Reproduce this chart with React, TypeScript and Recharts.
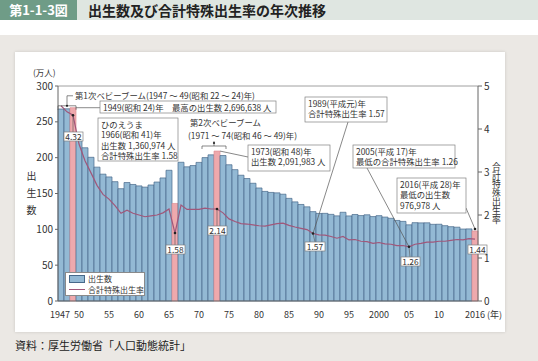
import React from 'react';
import { ComposedChart, Bar, Line, XAxis, YAxis, Cell, ReferenceDot, ReferenceLine, Legend } from 'recharts';

// 年次（1947〜2016）
const years = [
  1947, 1948, 1949, 1950, 1951, 1952, 1953, 1954, 1955, 1956,
  1957, 1958, 1959, 1960, 1961, 1962, 1963, 1964, 1965, 1966,
  1967, 1968, 1969, 1970, 1971, 1972, 1973, 1974, 1975, 1976,
  1977, 1978, 1979, 1980, 1981, 1982, 1983, 1984, 1985, 1986,
  1987, 1988, 1989, 1990, 1991, 1992, 1993, 1994, 1995, 1996,
  1997, 1998, 1999, 2000, 2001, 2002, 2003, 2004, 2005, 2006,
  2007, 2008, 2009, 2010, 2011, 2012, 2013, 2014, 2015, 2016,
];

// 出生数（万人）
const births = [
  267.9, 268.2, 269.7, 233.8, 213.8, 200.5, 186.8, 177.0, 173.1, 166.5,
  156.7, 165.3, 162.6, 160.6, 158.9, 161.9, 166.0, 171.7, 182.4, 136.1,
  193.6, 187.2, 189.0, 193.4, 200.1, 203.9, 209.2, 203.0, 190.1, 183.3,
  175.5, 170.9, 164.3, 157.7, 152.9, 151.5, 150.9, 149.0, 143.2, 138.3,
  134.7, 131.4, 124.7, 122.2, 122.3, 120.9, 118.8, 123.8, 118.7, 120.7,
  119.2, 120.3, 117.8, 119.1, 117.1, 115.4, 112.4, 111.1, 106.3, 109.3,
  109.0, 109.1, 107.0, 107.1, 105.1, 103.7, 103.0, 100.4, 100.6, 97.7,
];

// 合計特殊出生率
const tfr = [
  4.54, 4.40, 4.32, 3.65, 3.26, 2.98, 2.69, 2.48, 2.37, 2.22,
  2.04, 2.11, 2.04, 2.00, 1.96, 1.98, 2.00, 2.05, 2.14, 1.58,
  2.23, 2.13, 2.13, 2.13, 2.16, 2.14, 2.14, 2.05, 1.91, 1.85,
  1.80, 1.79, 1.77, 1.75, 1.74, 1.77, 1.80, 1.81, 1.76, 1.72,
  1.69, 1.66, 1.57, 1.54, 1.53, 1.50, 1.46, 1.50, 1.42, 1.43,
  1.39, 1.38, 1.34, 1.36, 1.33, 1.32, 1.29, 1.29, 1.26, 1.32,
  1.34, 1.37, 1.37, 1.39, 1.39, 1.41, 1.43, 1.42, 1.45, 1.44,
];

const highlightYears = [1949, 1966, 1973, 2016];

const xLabelYears = [1947, 1950, 1955, 1960, 1965, 1970, 1975, 1980, 1985, 1990, 1995, 2000, 2005, 2010, 2016];
const xLabelTexts = ['1947', '50', '55', '60', '65', '70', '75', '80', '85', '90', '95', '2000', '05', '10', '2016'];

const leftTicks = [0, 50, 100, 150, 200, 250, 300];
const rightTicks = [0, 1, 2, 3, 4, 5];

const data = years.map((year, i) => ({ year, births: births[i], tfr: tfr[i] }));

const FONT = "'Noto Sans CJK JP', 'Noto Sans', sans-serif";
const BLUE = '#93b9d4';
const BLUE_EDGE = '#47698a';
const PINK = '#eea9ad';
const PINK_EDGE = '#e08f95';
const LINE = '#a0577a';
const TEXT = '#333';
const FS = 8.4;

const Box = ({ x, y, w, h, lines, center }: any) => (
  <g>
    <rect x={x} y={y} width={w} height={h} fill="#fff" stroke="#808080" strokeWidth={0.7} />
    {lines.map((t: string, i: number) => (
      <text
        key={i}
        x={center ? x + w / 2 : x + 3}
        y={center ? y + h / 2 + 3 : y + 9.5 + i * 10.6}
        textAnchor={center ? 'middle' : 'start'}
        fontSize={FS}
        fill={TEXT}
        fontFamily={FONT}
      >
        {t}
      </text>
    ))}
  </g>
);

const Dot = ({ cx, cy }: any) => <circle cx={cx} cy={cy} r={1.3} fill="#222" />;

const XTick = ({ x, y, payload }: any) => {
  const idx = xLabelYears.indexOf(payload.value);
  if (idx < 0) return null;
  const label = xLabelTexts[idx];
  if (payload.value === 2016) {
    return (
      <text x={x - 10} y={y + 9} textAnchor="start" fontSize={9} fill={TEXT} fontFamily={FONT}>
        {label} (年)
      </text>
    );
  }
  return (
    <text x={x - (payload.value === 1947 ? 1 : 0)} y={y + 9} textAnchor="middle" fontSize={9} fill={TEXT} fontFamily={FONT}>
      {label}
    </text>
  );
};

const renderLegend = () => (
  <div
    style={{
      width: 78,
      height: 22,
      border: '1px solid #8a8a8a',
      background: '#fff',
      fontSize: 8,
      color: TEXT,
      fontFamily: FONT,
      lineHeight: '11px',
      whiteSpace: 'nowrap',
      boxSizing: 'content-box',
    }}
  >
    <div style={{ display: 'flex', alignItems: 'center', height: 11, paddingLeft: 3 }}>
      <span style={{ display: 'inline-block', width: 14, height: 6, background: BLUE, border: `1px solid ${BLUE_EDGE}`, marginRight: 3 }} />
      出生数
    </div>
    <div style={{ display: 'flex', alignItems: 'center', height: 11, paddingLeft: 3 }}>
      <span style={{ display: 'inline-block', width: 16, height: 0, borderTop: `1.2px solid ${LINE}`, marginRight: 3 }} />
      合計特殊出生率
    </div>
  </div>
);

const App: React.FC = () => {
  return (
    <div
      style={{
        position: 'relative',
        width: 538,
        height: 361,
        background: '#ebe8e4',
        overflow: 'hidden',
        fontFamily: FONT,
      }}
    >
      <style>{'body{margin:0}'}</style>
      <div style={{ position: 'absolute', left: 0, top: 0, width: 538, height: 35, background: '#fff' }} />
      <div style={{ position: 'absolute', left: 0, top: 0, width: 538, height: 20, background: '#dfe6e1' }} />
      <div
        style={{
          position: 'absolute', left: 0, top: 0, width: 77, height: 20, background: '#6f9c87',
          color: '#fff', fontWeight: 700, fontSize: 13, lineHeight: '20px', textAlign: 'center',
        }}
      >
        第1-1-3図
      </div>
      <div style={{ position: 'absolute', left: 88, top: 0, height: 20, lineHeight: '20px', fontSize: 14, fontWeight: 700, color: '#222' }}>
        出生数及び合計特殊出生率の年次推移
      </div>
      <div style={{ position: 'absolute', left: 15, top: 52, width: 490, height: 280, background: '#fff', boxShadow: '0 0 3px rgba(0,0,0,0.15)' }} />
      <div style={{ position: 'absolute', left: 15, top: 337, fontSize: 11, color: '#222' }}>資料：厚生労働省「人口動態統計」</div>

      <div style={{ position: 'absolute', left: 33, top: 67, fontSize: 8.5, lineHeight: '10px', color: TEXT }}>(万人)</div>
      <div style={{ position: 'absolute', left: 24, top: 171, fontSize: 10, color: TEXT, writingMode: 'vertical-rl', letterSpacing: 7 }}>出生数</div>
      <div style={{ position: 'absolute', left: 491, top: 162, fontSize: 8.8, lineHeight: '10px', color: TEXT, writingMode: 'vertical-rl' }}>合計特殊出生率</div>

      <div style={{ position: 'absolute', left: 0, top: 0 }}>
        <ComposedChart
          width={538}
          height={361}
          data={data}
          margin={{ top: 86, right: 30, bottom: 40, left: 18 }}
          barCategoryGap={0}
          barGap={0}
        >
          <XAxis
            dataKey="year"
            interval={0}
            tickLine={false}
            axisLine={{ stroke: '#666' }}
            height={20}
            tick={<XTick />}
          />
          <YAxis
            yAxisId="left"
            domain={[0, 300]}
            ticks={leftTicks}
            width={40}
            tickSize={3}
            axisLine={{ stroke: '#666' }}
            tickLine={{ stroke: '#666' }}
            tick={{ fontSize: 10, fill: TEXT, fontFamily: FONT }}
          />
          <YAxis
            yAxisId="right"
            orientation="right"
            domain={[0, 5]}
            ticks={rightTicks}
            width={30}
            tickSize={4}
            axisLine={{ stroke: '#666' }}
            tickLine={{ stroke: '#666' }}
            tick={{ fontSize: 10, fill: TEXT, fontFamily: FONT }}
          />
          <ReferenceLine yAxisId="left" y={300} stroke="#888" strokeWidth={0.8} />
          <Bar yAxisId="left" dataKey="births" isAnimationActive={false} strokeWidth={0.7}>
            {data.map((d) => {
              const hi = highlightYears.includes(d.year);
              return <Cell key={d.year} fill={hi ? PINK : BLUE} stroke={hi ? PINK_EDGE : BLUE_EDGE} />;
            })}
          </Bar>
          <Line
            yAxisId="right"
            dataKey="tfr"
            type="linear"
            stroke={LINE}
            strokeWidth={1.2}
            dot={false}
            isAnimationActive={false}
          />
          <Legend
            layout="vertical"
            align="center"
            verticalAlign="middle"
            content={renderLegend}
            wrapperStyle={{ left: 65, top: 272, width: 80, height: 24 }}
          />

          {/* 第1次ベビーブーム */}
          <ReferenceDot
            yAxisId="left"
            x={1948}
            y={births[1]}
            shape={({ cx, cy }: any) => (
              <g>
                <path d={`M${cx - 9},${cy + 1}V${cy - 3}H${cx + 9}V${cy + 1}`} fill="none" stroke="#555" strokeWidth={0.7} />
                <path d={`M${cx},${cy - 3}V${cy - 13}H${cx + 6}`} fill="none" stroke="#555" strokeWidth={0.7} />
                <circle cx={cx} cy={cy - 3} r={1.1} fill="#222" />
                <text x={cx + 8} y={cy - 10} fontSize={FS} fill={TEXT} fontFamily={FONT}>
                  第1次ベビーブーム(1947 ～ 49(昭和 22 ～ 24)年)
                </text>
              </g>
            )}
          />
          {/* 1949 最高の出生数 */}
          <ReferenceDot
            yAxisId="left"
            x={1949}
            y={births[2]}
            shape={({ cx, cy }: any) => (
              <g>
                <line x1={cx + 3} y1={cy} x2={100} y2={cy} stroke="#555" strokeWidth={0.7} />
                <Box x={100} y={101} w={176} h={12} lines={['1949(昭和 24)年　最高の出生数 2,696,638 人']} />
              </g>
            )}
          />
          <ReferenceDot
            yAxisId="right"
            x={1949}
            y={tfr[2]}
            shape={({ cx, cy }: any) => (
              <g>
                <line x1={cx} y1={cy} x2={cx} y2={132} stroke="#555" strokeWidth={0.6} />
                <Dot cx={cx} cy={cy} />
                <Box x={64} y={132} w={19} h={9} lines={['4.32']} center />
              </g>
            )}
          />
          {/* ひのえうま */}
          <ReferenceDot
            yAxisId="left"
            x={1966}
            y={births[19]}
            shape={() => (
              <Box x={98} y={118} w={80} h={43} lines={['ひのえうま', '1966(昭和 41)年', '出生数 1,360,974 人', '合計特殊出生率 1.58']} />
            )}
          />
          <ReferenceDot
            yAxisId="right"
            x={1966}
            y={tfr[19]}
            shape={({ cx, cy }: any) => (
              <g>
                <line x1={cx} y1={cy} x2={cx} y2={245} stroke="#555" strokeWidth={0.6} />
                <Dot cx={cx} cy={cy} />
                <Box x={166} y={245} w={19} h={9} lines={['1.58']} center />
              </g>
            )}
          />
          {/* 第2次ベビーブーム */}
          <ReferenceDot
            yAxisId="left"
            x={1972}
            y={births[25]}
            shape={({ cx }: any) => (
              <g>
                <path d={`M${cx - 9},149V146H${cx + 15}V149`} fill="none" stroke="#555" strokeWidth={0.7} />
                <path d={`M${cx + 3},146V141`} fill="none" stroke="#555" strokeWidth={0.7} />
                <circle cx={cx + 3} cy={143} r={1.1} fill="#222" />
                <text x={190} y={126} fontSize={FS} fill={TEXT} fontFamily={FONT}>第2次ベビーブーム</text>
                <text x={188} y={139} fontSize={FS} fill={TEXT} fontFamily={FONT}>(1971 ～ 74(昭和 46 ～ 49)年)</text>
              </g>
            )}
          />
          <ReferenceDot
            yAxisId="left"
            x={1973}
            y={births[26]}
            shape={({ cx, cy }: any) => (
              <g>
                <line x1={cx + 3} y1={cy} x2={248} y2={157} stroke="#555" strokeWidth={0.7} />
                <Box x={248} y={145} w={82} h={26} lines={['1973(昭和 48)年', '出生数 2,091,983 人']} />
              </g>
            )}
          />
          <ReferenceDot
            yAxisId="right"
            x={1973}
            y={tfr[26]}
            shape={({ cx, cy }: any) => (
              <g>
                <line x1={cx} y1={cy} x2={cx} y2={226} stroke="#555" strokeWidth={0.6} />
                <Dot cx={cx} cy={cy} />
                <Box x={208} y={226} w={19} h={9} lines={['2.14']} center />
              </g>
            )}
          />
          {/* 1989 1.57 */}
          <ReferenceDot
            yAxisId="right"
            x={1989}
            y={tfr[42]}
            shape={({ cx, cy }: any) => (
              <g>
                <line x1={cx} y1={cy} x2={348} y2={122} stroke="#555" strokeWidth={0.7} />
                <line x1={cx} y1={cy} x2={cx + 2} y2={242} stroke="#555" strokeWidth={0.6} />
                <Dot cx={cx} cy={cy} />
                <Box x={305} y={97} w={82} h={25} lines={['1989(平成元)年', '合計特殊出生率 1.57']} />
                <Box x={305} y={242} w={20} h={9} lines={['1.57']} center />
              </g>
            )}
          />
          {/* 2005 1.26 */}
          <ReferenceDot
            yAxisId="right"
            x={2005}
            y={tfr[58]}
            shape={({ cx, cy }: any) => (
              <g>
                <line x1={cx} y1={cy} x2={367} y2={168} stroke="#555" strokeWidth={0.7} />
                <line x1={cx} y1={cy} x2={cx + 1} y2={257} stroke="#555" strokeWidth={0.6} />
                <Dot cx={cx} cy={cy} />
                <Box x={353} y={145} w={102} h={23} lines={['2005(平成 17)年', '最低の合計特殊出生率 1.26']} />
                <Box x={401} y={257} w={19} h={9} lines={['1.26']} center />
              </g>
            )}
          />
          {/* 2016 最低の出生数 */}
          <ReferenceDot
            yAxisId="left"
            x={2016}
            y={births[69]}
            shape={({ cx, cy }: any) => (
              <g>
                <line x1={cx} y1={cy - 2} x2={466} y2={208} stroke="#555" strokeWidth={0.7} />
                <Dot cx={cx} cy={cy - 2} />
                <Box x={397} y={178} w={69} h={35} lines={['2016(平成 28)年', '最低の出生数', '976,978 人']} />
              </g>
            )}
          />
          <ReferenceDot
            yAxisId="right"
            x={2016}
            y={tfr[69]}
            shape={({ cx }: any) => <Box x={cx - 7} y={245} w={19} h={9} lines={['1.44']} center />}
          />
        </ComposedChart>
      </div>
    </div>
  );
};

export default App;
